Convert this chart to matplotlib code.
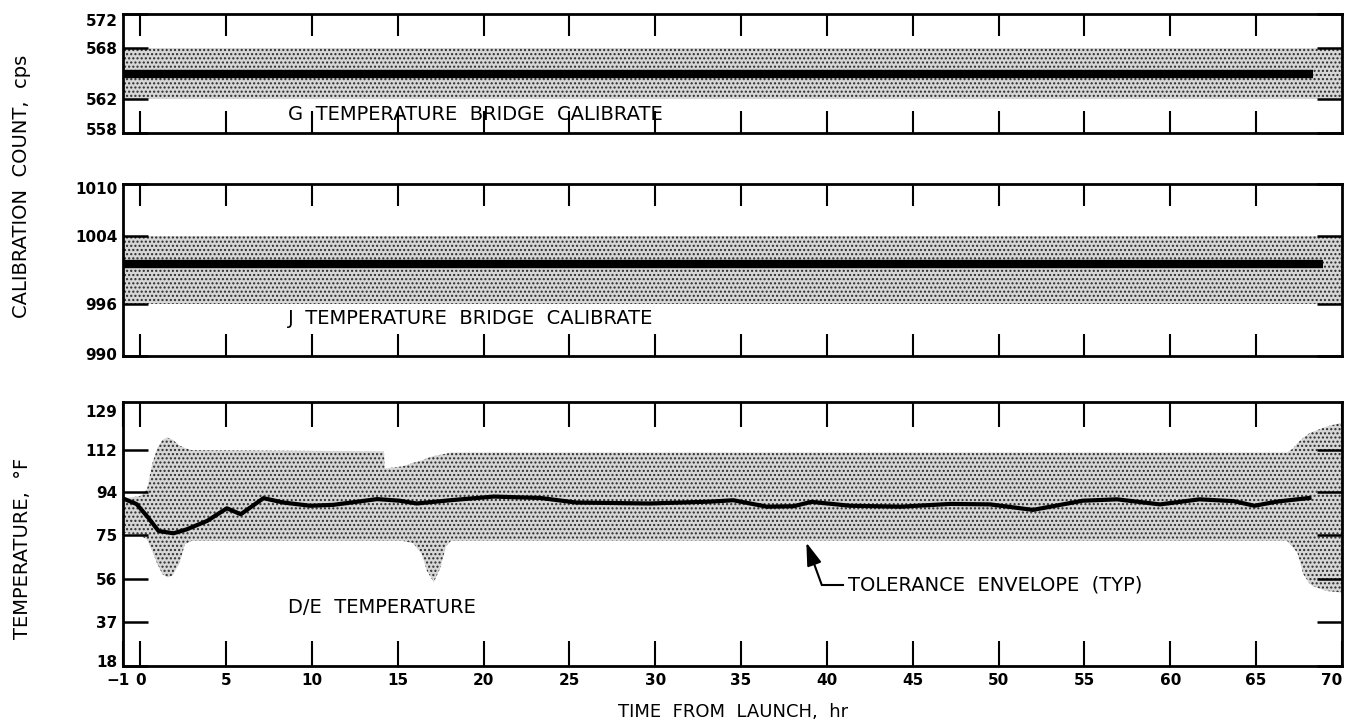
import matplotlib
matplotlib.use("Agg")
import matplotlib.pyplot as plt
import matplotlib.transforms as mtransforms

# ---------------- data ----------------
# Top panel: G temperature bridge calibrate
g_time = [-1, 10, 20, 30, 40, 50, 60, 68.3]
g_count = [564.9, 564.9, 564.9, 564.9, 564.9, 564.9, 564.9, 564.9]
g_band_time = [-1, 70]
g_band_low = [562, 562]
g_band_high = [568, 568]

# Middle panel: J temperature bridge calibrate
j_time = [-1, 10, 20, 30, 40, 50, 60, 68.9]
j_count = [1000.7, 1000.7, 1000.7, 1000.7, 1000.7, 1000.7, 1000.7, 1000.7]
j_band_time = [-1, 70]
j_band_low = [996, 996]
j_band_high = [1004, 1004]

# Bottom panel: D/E temperature
de_time = [-1, -0.2, 0.47, 1.07, 1.94, 2.7, 3.9, 5.05, 5.86, 7.18, 8.35, 9.9,
           11.25, 13.8, 15.1, 16.1, 18.05, 20.6, 23.3, 25.4, 29.7, 33.2, 34.55,
           36.5, 38.05, 39.1, 41.35, 44.3, 47.2, 49.5, 52.0, 54.9, 56.9, 59.4,
           61.7, 63.7, 64.9, 66.2, 68.1]
de_temp = [91.0, 88.5, 82.6, 76.8, 75.8, 77.5, 81.2, 86.7, 84.1, 91.1, 89.2, 87.8,
           88.2, 90.7, 90.0, 88.8, 90.2, 91.8, 91.2, 89.2, 88.8, 89.6, 90.2,
           87.4, 87.6, 89.5, 87.8, 87.4, 88.6, 88.4, 86.0, 90.0, 90.6, 88.4,
           90.6, 89.8, 87.8, 89.6, 91.2]

env_time = [-1, 0, 0.4, 0.7, 1.0, 1.3, 1.6, 1.9, 2.3, 2.6, 3.0, 14.2, 14.25,
            15.3, 15.9, 16.4, 16.7, 17.1, 17.5, 17.8, 18.1, 66.8, 67.1, 67.4,
            67.75, 68.1, 68.3, 69.1, 70]
env_upper = [91, 92, 95, 106, 113, 116.5, 117.5, 116.5, 114, 113, 112, 111.5, 104,
             105, 106.5, 107.5, 108.5, 109.5, 110, 110.5, 111, 111, 112.5, 115,
             117.5, 119.4, 120, 122.3, 124]
env_lower = [76, 75, 73, 68, 62.5, 58, 56.5, 57.5, 63, 71, 72.5, 72.5, 72.5,
             72.5, 71.5, 66.8, 59.5, 54.5, 61, 70, 72.5, 72.5, 70, 67.4,
             58, 54, 52.8, 50.7, 50]

x_ticks = [-1, 0, 5, 10, 15, 20, 25, 30, 35, 40, 45, 50, 55, 60, 65, 70]
x_inner_ticks = [0, 5, 10, 15, 20, 25, 30, 35, 40, 45, 50, 55, 60, 65]
g_yticks = [558, 562, 568, 572]
j_yticks = [990, 996, 1004, 1010]
t_yticks = [18, 37, 56, 75, 94, 112, 129]

# ---------------- style ----------------
W, H = 1346, 728
fig = plt.figure(figsize=(W / 100, H / 100), dpi=100)

left = 123 / W
width = (1342 - 123) / W

def axes_px(top, bottom):
    return fig.add_axes([left, 1 - bottom / H, width, (bottom - top) / H])

ax_g = axes_px(14, 132.7)
ax_j = axes_px(184, 356)
ax_t = axes_px(402, 666)

band_kw = dict(facecolor="#d6d6d6", edgecolor="#2a2a2a", hatch="....", linewidth=0)
tick_font = dict(fontsize=11, fontweight="bold", family="DejaVu Sans")
text_kw = dict(fontsize=14, family="DejaVu Sans", color="black")

def shift(label, dx_px, dy_px):
    label.set_transform(label.get_transform() +
                        mtransforms.ScaledTranslation(dx_px / 100, dy_px / 100,
                                                      fig.dpi_scale_trans))

def style(ax, yticks, ylim, show_xlabels, top_dy, bottom_dy):
    ax.set_xlim(-1, 70)
    ax.set_ylim(*ylim)
    for s in ax.spines.values():
        s.set_linewidth(2)
    ax.set_yticks(yticks)
    ax.set_yticklabels([str(v) for v in yticks], **tick_font)
    ax.tick_params(axis="y", direction="in", left=True, right=True,
                   length=18, width=1.8, pad=4)
    ylabels = ax.get_yticklabels()
    shift(ylabels[0], 0, bottom_dy)
    shift(ylabels[-1], 0, top_dy)
    ax.set_xticks(x_inner_ticks)
    ax.tick_params(axis="x", direction="in", top=True, bottom=True,
                   length=16, width=1.5, labelbottom=False)
    if show_xlabels:
        ax.set_xticks(x_ticks)
        ax.set_xticklabels(["\u22121" if v == -1 else str(v) for v in x_ticks], **tick_font)
        ax.tick_params(axis="x", labelbottom=True, length=18, pad=5)
        labels = ax.get_xticklabels()
        shift(labels[0], -5, 0)
        shift(labels[-1], -10, 0)

# top panel
ax_g.fill_between(g_band_time, g_band_low, g_band_high, **band_kw)
ax_g.plot(g_time, g_count, color="black", lw=6, solid_capstyle="butt")
style(ax_g, g_yticks, (558, 572), False, -6, 4)
ax_g.text(8.62, 560.1, "G  TEMPERATURE  BRIDGE  CALIBRATE", va="center", ha="left", **text_kw)

# middle panel
ax_j.fill_between(j_band_time, j_band_low, j_band_high, **band_kw)
ax_j.plot(j_time, j_count, color="black", lw=6, solid_capstyle="butt")
style(ax_j, j_yticks, (990, 1010), False, -4, 2)
ax_j.text(8.62, 994.4, "J  TEMPERATURE  BRIDGE  CALIBRATE", va="center", ha="left", **text_kw)

# bottom panel
ax_t.fill_between(env_time, env_lower, env_upper, **band_kw)
ax_t.plot(de_time, de_temp, color="black", lw=3, solid_joinstyle="round")
style(ax_t, t_yticks, (18, 133), True, 0, 5)
for tk in ax_t.yaxis.get_major_ticks()[-1:]:
    tk.tick1line.set_visible(False)
    tk.tick2line.set_visible(False)
ax_t.text(8.62, 43.3, "D/E  TEMPERATURE", va="center", ha="left", **text_kw)

# tolerance envelope annotation
ax_t.plot([39.7, 40.95], [53.3, 53.3], color="black", lw=1.5)
ax_t.annotate("", xy=(38.8, 71.8), xytext=(39.7, 53.3),
              arrowprops=dict(arrowstyle="-|>,head_length=1.4,head_width=0.45",
                              color="black", lw=1.5, shrinkA=0, shrinkB=0))
ax_t.text(41.2, 53.3, "TOLERANCE  ENVELOPE  (TYP)", va="center", ha="left", **text_kw)

# axis titles
fig.text(22 / W, 1 - 186 / H, "CALIBRATION  COUNT,  cps", rotation=90,
         ha="center", va="center", fontsize=14, family="DejaVu Sans")
fig.text(23 / W, 1 - 548 / H, "TEMPERATURE,  \u00b0F", rotation=90,
         ha="center", va="center", fontsize=14, family="DejaVu Sans")
fig.text(733 / W, 1 - 712 / H, "TIME  FROM  LAUNCH,  hr",
         ha="center", va="center", fontsize=13, family="DejaVu Sans")

fig.savefig("out.png", dpi=100, facecolor="white")
